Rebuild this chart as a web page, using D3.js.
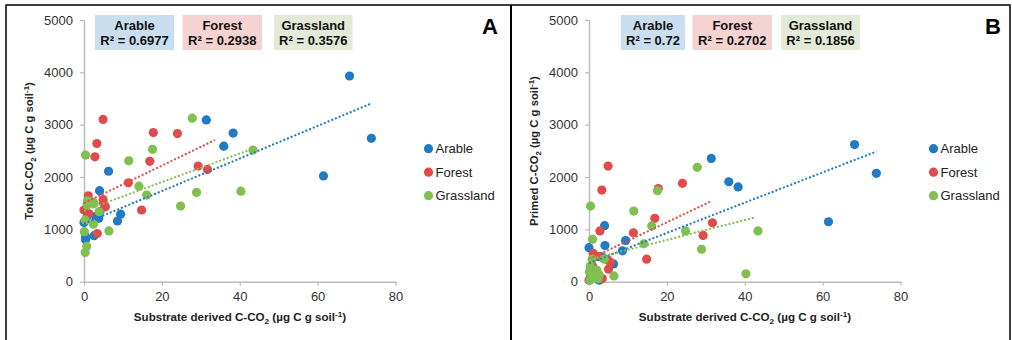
<!DOCTYPE html>
<html>
<head>
<meta charset="utf-8">
<script src="https://cdn.jsdelivr.net/npm/d3@7"></script>
<style>
  body { margin: 0; background: #fff; }
  svg { display: block; font-family: "Liberation Sans", Arial, sans-serif; }
</style>
</head>
<body>
<svg id="chart" width="1012" height="340"></svg>
<script>
// substrate derived C-CO2 (shared by both panels), total C-CO2 (A), primed C-CO2 (B)
const arableX      = [68.2, 73.8, 61.5, 31.4, 38.3, 35.9, 6.3, 4.0, 9.4, 8.6, 3.8, 4.1, 3.0, 2.6, 0.4, 0.4, 0.0, 0.8];
const arableTotal  = [3930, 2740, 2020, 3090, 2840, 2590, 2110, 1740, 1290, 1160, 1210, 1340, 1250, 880, 860, 800, 1130, 1240];
const arablePrimed = [2620, 2070, 1145, 2355, 1810, 1910, 340, 1070, 785, 590, 450, 690, 480, 30, 220, 100, 650, 300];

const forestX      = [4.9, 3.3, 2.8, 17.8, 24.0, 16.9, 29.3, 31.7, 11.4, 14.8, 4.9, 5.0, 3.4, 2.4, 1.1, 0.9, 0.0, 1.3, 5.5];
const forestTotal  = [3100, 2640, 2385, 2850, 2830, 2300, 2210, 2145, 1890, 1370, 1570, 1500, 920, 1510, 1640, 1500, 1370, 1300, 1430];
const forestPrimed = [2210, 1750, 970, 1780, 1880, 1210, 885, 1125, 935, 430, 415, 240, 60, 480, 540, 300, 30, 200, 370];

const grassX      = [0.4, 11.5, 17.6, 27.8, 43.4, 14.1, 16.1, 24.8, 28.9, 40.3, 6.4, 0.3, 0.7, 0.1, 0.3, 0.8, 0.9, 2.0, 2.6, 3.9, 2.4];
const grassTotal  = [2420, 2310, 2530, 3125, 2515, 1825, 1655, 1445, 1705, 1730, 970, 560, 675, 955, 1180, 1465, 1545, 1525, 1495, 1335, 1100];
const grassPrimed = [1445, 1350, 1740, 2185, 970, 725, 1065, 970, 620, 150, 110, 30, 130, 190, 290, 430, 810, 220, 130, 430, 60];

// linear trendlines as shown: [slope, intercept, xStart, xEnd]
const totalTrends  = [[31.1, 1110, 0, 73.8], [35.8, 1502, 0, 33.6], [27.3, 1357, 0, 43.4]];
const primedTrends = [[28.9, 354, 0, 73.8], [35.3, 429, 0, 31.1], [18.95, 420, 0, 42.7]];

const totalR2  = ["0.6977", "0.2938", "0.3576"];
const primedR2 = ["0.72", "0.2702", "0.1856"];

const groups = ["Arable", "Forest", "Grassland"];
const colors = ["#1f7bc3", "#e04c4b", "#80bf50"];
const boxFill = ["#c9deee", "#f5d3d2", "#e3ead7"];

const xTicks = [0, 20, 40, 60, 80];
const yTicks = [0, 1000, 2000, 3000, 4000, 5000];

const svg = d3.select("#chart");

// frame
const frame = svg.append("g").attr("stroke", "#000").attr("fill", "none");
frame.append("path").attr("d", "M6,340V5H1010V340").attr("stroke-width", 1.5);
frame.append("line").attr("x1", 511).attr("x2", 511).attr("y1", 5).attr("y2", 340).attr("stroke-width", 2);

function unitLabel(t, prefix) {
  t.append("tspan").text(prefix + "C-CO");
  t.append("tspan").attr("font-size", "0.7em").attr("dy", 3).text("2");
  t.append("tspan").attr("dy", -3).text(" (µg C g soil");
  t.append("tspan").attr("font-size", "0.7em").attr("dy", -4).text("-1");
  t.append("tspan").attr("dy", 4).text(")");
}

function drawPanel(opt) {
  const x = d3.scaleLinear().domain([0, 80]).range([opt.left, opt.left + 311.5]);
  const y = d3.scaleLinear().domain([0, 5000]).range([281.7, 20]);
  const g = svg.append("g");

  const xAxis = g.append("g").attr("transform", "translate(0,281.7)")
    .call(d3.axisBottom(x).tickValues(xTicks).tickFormat(d3.format("d"))
      .tickSize(4).tickPadding(4).tickSizeOuter(0));
  const yAxis = g.append("g").attr("transform", `translate(${opt.left},0)`)
    .call(d3.axisLeft(y).tickValues(yTicks).tickFormat(d3.format("d"))
      .tickSize(4).tickPadding(7).tickSizeOuter(0));
  [xAxis, yAxis].forEach(a => {
    a.select(".domain").attr("stroke", "#bcbcbc").attr("stroke-width", 1.5);
    a.selectAll(".tick line").attr("stroke", "#bcbcbc").attr("stroke-width", 1.2);
    a.selectAll(".tick text").attr("fill", "#333").attr("font-size", 13)
      .attr("font-family", "Liberation Sans, Arial, sans-serif");
  });
  xAxis.selectAll(".tick text").attr("dy", "0.9em");

  // axis titles
  const xt = g.append("text").attr("x", opt.left + 156).attr("y", 321)
    .attr("text-anchor", "middle").attr("font-weight", "bold").attr("font-size", 11.6).attr("fill", "#222");
  unitLabel(xt, "Substrate derived ");
  const yt = g.append("text").attr("transform", `translate(${opt.left - 51},151) rotate(-90)`)
    .attr("text-anchor", "middle").attr("font-weight", "bold").attr("font-size", 11.3).attr("fill", "#222");
  unitLabel(yt, opt.yTitle + " ");

  // points
  opt.series.forEach((s, i) => {
    g.append("g").selectAll("circle")
      .data(s.x.map((v, k) => [v, s.y[k]]))
      .enter().append("circle")
      .attr("cx", d => x(d[0]))
      .attr("cy", d => y(d[1]))
      .attr("r", 4.6)
      .attr("fill", colors[i]);
  });

  // trendlines
  opt.trends.forEach((t, i) => {
    g.append("line")
      .attr("x1", x(t[2])).attr("y1", y(t[0] * t[2] + t[1]))
      .attr("x2", x(t[3])).attr("y2", y(t[0] * t[3] + t[1]))
      .attr("stroke", colors[i]).attr("stroke-width", 2)
      .attr("stroke-dasharray", "2,2");
  });

  // R2 boxes
  opt.boxes.forEach((bx, i) => {
    g.append("rect").attr("x", bx[0]).attr("y", 15).attr("width", bx[1]).attr("height", 35)
      .attr("fill", boxFill[i]);
    const cx = bx[0] + bx[1] / 2;
    g.append("text").attr("x", cx).attr("y", 30).attr("text-anchor", "middle")
      .attr("font-weight", "bold").attr("font-size", 13).attr("fill", "#111").text(groups[i]);
    g.append("text").attr("x", cx).attr("y", 45).attr("text-anchor", "middle")
      .attr("font-weight", "bold").attr("font-size", 13).attr("fill", "#111").text("R² = " + opt.r2[i]);
  });

  // legend
  groups.forEach((name, i) => {
    const ly = 148.7 + i * 23.5;
    g.append("circle").attr("cx", opt.legendX).attr("cy", ly).attr("r", 4.6).attr("fill", colors[i]);
    g.append("text").attr("x", opt.legendX + 7).attr("y", ly + 4.6)
      .attr("font-size", 13).attr("fill", "#222").text(name);
  });

  // panel letter
  g.append("text").attr("x", opt.letterX).attr("y", 34).attr("text-anchor", "middle")
    .attr("font-weight", "bold").attr("font-size", 22).attr("fill", "#000").text(opt.letter);
}

drawPanel({
  left: 84, yTitle: "Total", letter: "A", letterX: 490, legendX: 428.5,
  r2: totalR2, trends: totalTrends,
  boxes: [[95, 79], [182.5, 79.5], [274, 78.5]],
  series: [{ x: arableX, y: arableTotal }, { x: forestX, y: forestTotal }, { x: grassX, y: grassTotal }]
});

drawPanel({
  left: 589, yTitle: "Primed", letter: "B", letterX: 993, legendX: 933.5,
  r2: primedR2, trends: primedTrends,
  boxes: [[621, 64], [692.5, 79.5], [781, 79]],
  series: [{ x: arableX, y: arablePrimed }, { x: forestX, y: forestPrimed }, { x: grassX, y: grassPrimed }]
});
</script>
</body>
</html>
